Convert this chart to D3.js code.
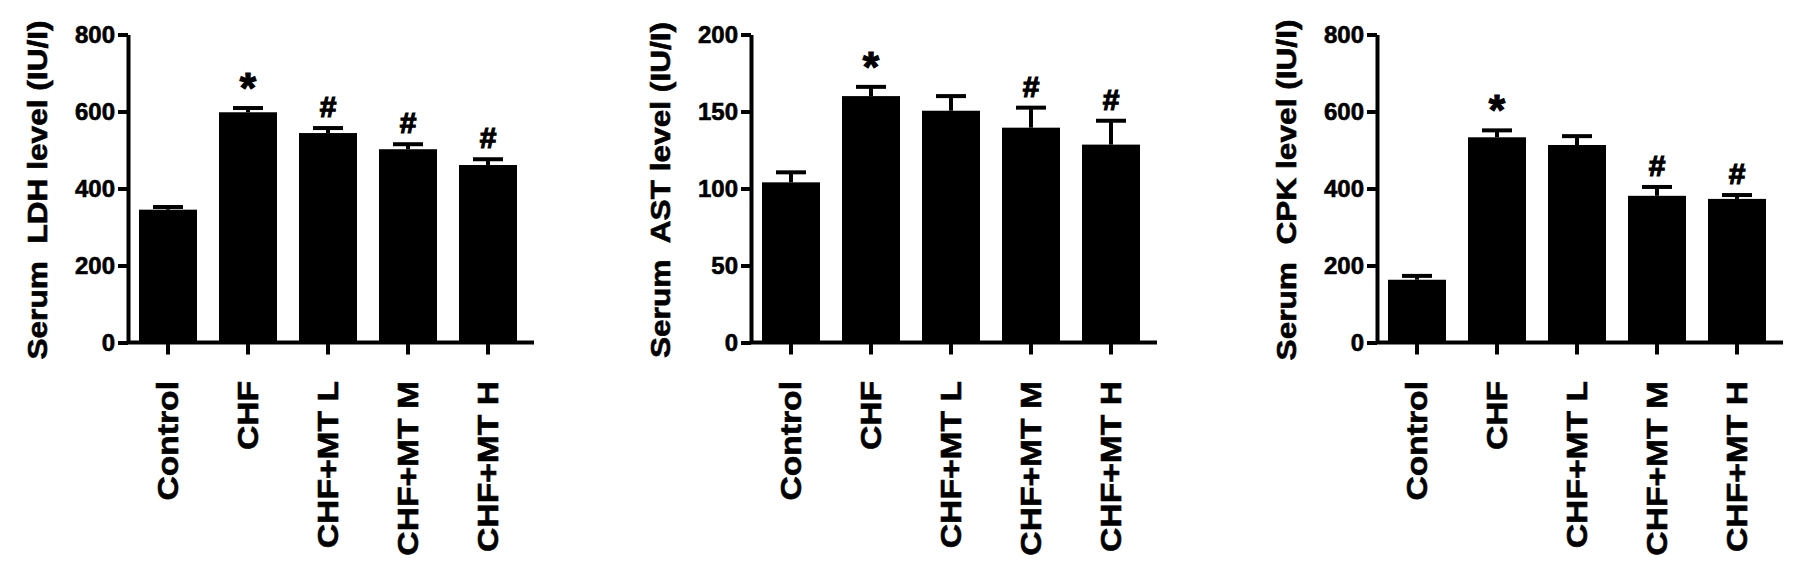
<!DOCTYPE html>
<html>
<head>
<meta charset="utf-8">
<script src="https://cdn.jsdelivr.net/npm/d3@7"></script>
<style>
  html, body { margin: 0; padding: 0; background: #fff; }
  svg { display: block; font-family: "Liberation Sans", Arial, sans-serif; font-weight: bold; }
  svg text { stroke: #000; stroke-width: 0.6px; }
</style>
</head>
<body>
<div id="chart"></div>
<script>
const groups = ["Control", "CHF", "CHF+MT L", "CHF+MT M", "CHF+MT H"];

const ldhMean = [345, 598, 544, 502, 461];
const ldhSem = [7, 11, 13, 13, 15];
const ldhMarks = ["", "*", "#", "#", "#"];
const ldhTicks = [0, 200, 400, 600, 800];

const astMean = [104, 160, 150.5, 139.5, 128.5];
const astSem = [6.5, 6, 9.5, 13, 15.5];
const astMarks = ["", "*", "", "#", "#"];
const astTicks = [0, 50, 100, 150, 200];

const cpkMean = [163, 533, 513, 381, 373];
const cpkSem = [10, 18, 23, 23, 10];
const cpkMarks = ["", "*", "", "#", "#"];
const cpkTicks = [0, 200, 400, 600, 800];

const panels = [
  { title: "Serum  LDH level (IU/I)", mean: ldhMean, sem: ldhSem, marks: ldhMarks, ticks: ldhTicks, left: 128 },
  { title: "Serum  AST level (IU/I)", mean: astMean, sem: astSem, marks: astMarks, ticks: astTicks, left: 751 },
  { title: "Serum  CPK level (IU/I)", mean: cpkMean, sem: cpkSem, marks: cpkMarks, ticks: cpkTicks, left: 1377 }
];

const W = 1795, H = 561;
const plotTop = 34.5, plotBottom = 342.5, innerW = 400;

const svg = d3.select("#chart").append("svg")
  .attr("width", W)
  .attr("height", H);

svg.append("rect").attr("width", W).attr("height", H).attr("fill", "#fff");

panels.forEach(p => {
  const g = svg.append("g").attr("transform", `translate(${p.left},0)`);

  const x = d3.scaleBand()
    .domain(groups)
    .range([0, innerW])
    .paddingInner(0.275)
    .paddingOuter(0.1375);

  const y = d3.scaleLinear()
    .domain([p.ticks[0], p.ticks[p.ticks.length - 1]])
    .range([plotBottom, plotTop]);

  // bars
  g.selectAll("rect.bar")
    .data(groups)
    .join("rect")
    .attr("class", "bar")
    .attr("x", d => x(d))
    .attr("y", (d, i) => y(p.mean[i]))
    .attr("width", x.bandwidth())
    .attr("height", (d, i) => plotBottom - y(p.mean[i]))
    .attr("fill", "#000");

  // upper error bars
  const eb = g.selectAll("g.err")
    .data(groups)
    .join("g")
    .attr("class", "err")
    .attr("transform", d => `translate(${x(d) + x.bandwidth() / 2},0)`);

  eb.append("line")
    .attr("y1", (d, i) => y(p.mean[i]))
    .attr("y2", (d, i) => y(p.mean[i] + p.sem[i]))
    .attr("stroke", "#000").attr("stroke-width", 4);

  eb.append("line")
    .attr("x1", -15).attr("x2", 15)
    .attr("y1", (d, i) => y(p.mean[i] + p.sem[i]))
    .attr("y2", (d, i) => y(p.mean[i] + p.sem[i]))
    .attr("stroke", "#000").attr("stroke-width", 4);

  // significance marks
  eb.append("text")
    .attr("text-anchor", "middle")
    .attr("y", (d, i) => y(p.mean[i] + p.sem[i]) - (p.marks[i] === "*" ? 6 : 11))
    .attr("font-size", (d, i) => p.marks[i] === "*" ? 42 : 30)
    .attr("fill", "#000")
    .style("stroke-width", "1.2px")
    .text((d, i) => p.marks[i]);

  // y axis
  const yAxis = g.append("g")
    .call(d3.axisLeft(y).tickValues(p.ticks).tickSize(10).tickSizeOuter(0).tickPadding(3));
  yAxis.selectAll("line, path").attr("stroke", "#000").attr("stroke-width", 4);
  yAxis.selectAll("text").attr("font-size", 24).attr("fill", "#000")
    .style("font-family", "'Liberation Sans', Arial, sans-serif").style("font-weight", "bold");

  // x axis
  const xAxis = g.append("g")
    .attr("transform", `translate(0,${plotBottom})`)
    .call(d3.axisBottom(x).tickSize(12).tickSizeOuter(0).tickFormat(""));
  xAxis.select(".domain").attr("d", `M0,0H${innerW + 6}`);
  xAxis.selectAll("line, path").attr("stroke", "#000").attr("stroke-width", 4);

  // rotated category labels
  g.selectAll("text.cat")
    .data(groups)
    .join("text")
    .attr("class", "cat")
    .attr("transform", d => `translate(${x(d) + x.bandwidth() / 2 + 10},381) rotate(-90) scale(1.16,1)`)
    .attr("text-anchor", "end")
    .attr("font-size", 29)
    .attr("fill", "#000")
    .text(d => d);

  // y title
  g.append("text")
    .attr("transform", `translate(-81,190) rotate(-90) scale(1.13,1)`)
    .attr("text-anchor", "middle")
    .attr("font-size", 28)
    .attr("fill", "#000")
    .style("white-space", "pre")
    .text(p.title);
});
</script>
</body>
</html>
